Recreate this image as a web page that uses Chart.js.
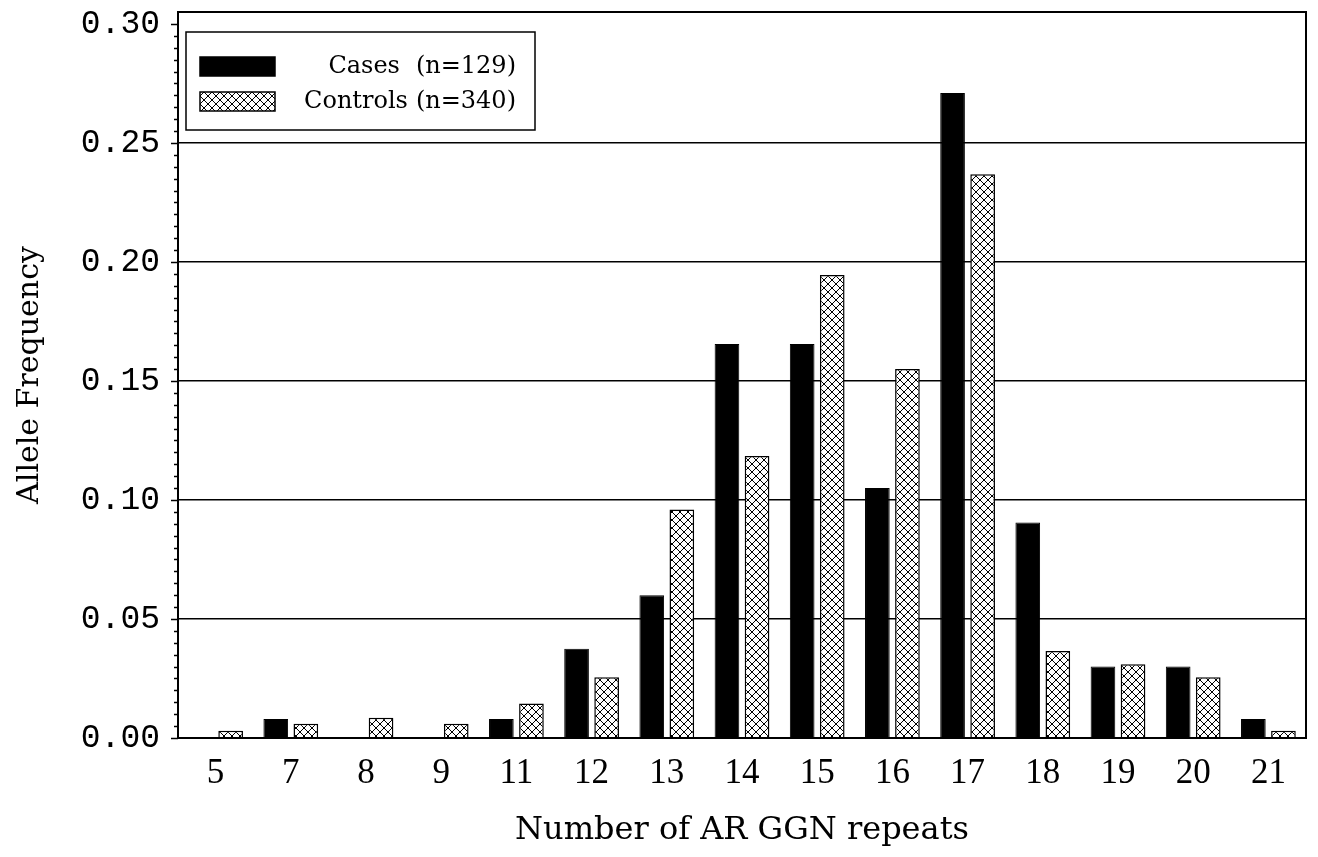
<!DOCTYPE html>
<html>
<head>
<meta charset="utf-8">
<script src="https://cdn.jsdelivr.net/npm/chart.js@4.4.1/dist/chart.umd.min.js"></script>
<style>
  html, body { margin: 0; padding: 0; background: #fff; }
  #wrap { width: 1318px; height: 857px; }
</style>
</head>
<body>
<div id="wrap"><canvas id="chart" width="1318" height="857"></canvas></div>
<script>
const repeats = ['5', '7', '8', '9', '11', '12', '13', '14', '15', '16', '17', '18', '19', '20', '21'];
const cases = [0, 0.008, 0, 0, 0.008, 0.0375, 0.060, 0.1655, 0.1655, 0.105, 0.271, 0.0905, 0.030, 0.030, 0.008];
const controls = [0.003, 0.006, 0.0085, 0.006, 0.0145, 0.0255, 0.096, 0.1185, 0.1945, 0.155, 0.2368, 0.0365, 0.031, 0.0255, 0.003];
const seriesNames = ['Cases (n=129)', 'Controls (n=340)'];
const yTicks = [0, 0.05, 0.10, 0.15, 0.20, 0.25, 0.30];

// crosshatch fill for the controls
function makeHatch() {
  const c = document.createElement('canvas');
  c.width = 8; c.height = 8;
  const g = c.getContext('2d');
  g.fillStyle = '#fff';
  g.fillRect(0, 0, 8, 8);
  g.strokeStyle = '#000';
  g.lineWidth = 1;
  g.beginPath();
  g.moveTo(0, 0); g.lineTo(8, 8);
  g.moveTo(8, 0); g.lineTo(0, 8);
  g.stroke();
  return g.createPattern(c, 'repeat');
}
const hatch = makeHatch();

const isMajor = v => Math.round(v * 1000) % 50 === 0;

const framePlugin = {
  id: 'frame',
  afterDraw(chart) {
    const ctx = chart.ctx;
    const a = chart.chartArea;
    const y = chart.scales.y;
    ctx.save();
    ctx.strokeStyle = '#000';
    ctx.lineWidth = 2;
    ctx.strokeRect(a.left, a.top, a.right - a.left, a.bottom - a.top);

    // tick marks on the left axis
    ctx.lineWidth = 1.5;
    y.ticks.forEach(t => {
      const py = Math.round(y.getPixelForValue(t.value)) + 0.5;
      const len = isMajor(t.value) ? 7 : 4;
      ctx.beginPath();
      ctx.moveTo(a.left - len, py);
      ctx.lineTo(a.left, py);
      ctx.stroke();
    });

    // legend box
    ctx.lineWidth = 1.5;
    ctx.strokeRect(186, 32, 349, 98);
    const ds = chart.data.datasets;
    const rows = [57, 92];
    ctx.font = '24px "DejaVu Serif"';
    ctx.textAlign = 'right';
    ctx.textBaseline = 'middle';
    ds.forEach((d, i) => {
      ctx.fillStyle = d.backgroundColor;
      ctx.fillRect(200, rows[i], 75, 19);
      ctx.strokeStyle = '#000';
      ctx.lineWidth = 1.5;
      ctx.strokeRect(200, rows[i], 75, 19);
      ctx.fillStyle = '#000';
      const parts = d.label.split(' (');
      ctx.fillText('(' + parts[1], 516, rows[i] + 10);
      const w = ctx.measureText('(' + parts[1]).width;
      ctx.fillText(parts[0], 516 - w - (i === 0 ? 16 : 8), rows[i] + 10);
    });
    ctx.restore();
  }
};

new Chart(document.getElementById('chart'), {
  type: 'bar',
  data: {
    labels: repeats,
    datasets: [
      {
        label: seriesNames[0],
        data: cases,
        backgroundColor: '#000',
        borderColor: '#000',
        borderWidth: 1
      },
      {
        label: seriesNames[1],
        data: controls,
        backgroundColor: hatch,
        borderColor: '#000',
        borderWidth: 1.5
      }
    ]
  },
  options: {
    responsive: false,
    animation: false,
    events: [],
    categoryPercentage: 0.8,
    barPercentage: 0.82,
    layout: { padding: { top: 12, right: 12, left: 0, bottom: 0 } },
    plugins: {
      legend: { display: false },
      tooltip: { enabled: false }
    },
    scales: {
      x: {
        afterFit(scale) {
          scale.height = 119;
          scale.paddingLeft = 0;
          scale.paddingRight = 0;
        },
        grid: { display: false, drawTicks: false },
        border: { display: false },
        ticks: {
          color: '#000',
          padding: 15,
          font: { family: '"Liberation Serif"', size: 35 }
        },
        title: {
          display: true,
          text: 'Number of AR GGN repeats',
          color: '#000',
          font: { family: '"DejaVu Serif"', size: 32 },
          padding: { top: 0, bottom: 7 }
        }
      },
      y: {
        min: 0,
        max: 0.305,
        afterFit(scale) {
          scale.width = 178;
          scale.paddingTop = 0;
          scale.paddingBottom = 0;
        },
        afterBuildTicks(scale) {
          const t = [];
          for (let i = 0; i <= 60; i++) t.push({ value: i * 0.005 });
          scale.ticks = t;
        },
        grid: {
          drawTicks: false,
          color: ctx => {
            const v = ctx.tick ? ctx.tick.value : 0;
            return isMajor(v) && v > 0.001 && v < 0.299 ? '#000' : 'rgba(0,0,0,0)';
          },
          lineWidth: 1.5
        },
        border: { display: false },
        ticks: {
          color: '#000',
          padding: 18,
          autoSkip: false,
          font: { family: '"Liberation Mono"', size: 33 },
          callback: v => {
            const hit = yTicks.find(t => Math.abs(t - v) < 1e-6);
            return hit === undefined ? '' : hit.toFixed(2);
          }
        },
        title: {
          display: true,
          text: 'Allele Frequency',
          color: '#000',
          font: { family: '"DejaVu Serif"', size: 30 },
          padding: { top: 12, bottom: 0 }
        }
      }
    }
  },
  plugins: [framePlugin]
});
</script>
</body>
</html>
